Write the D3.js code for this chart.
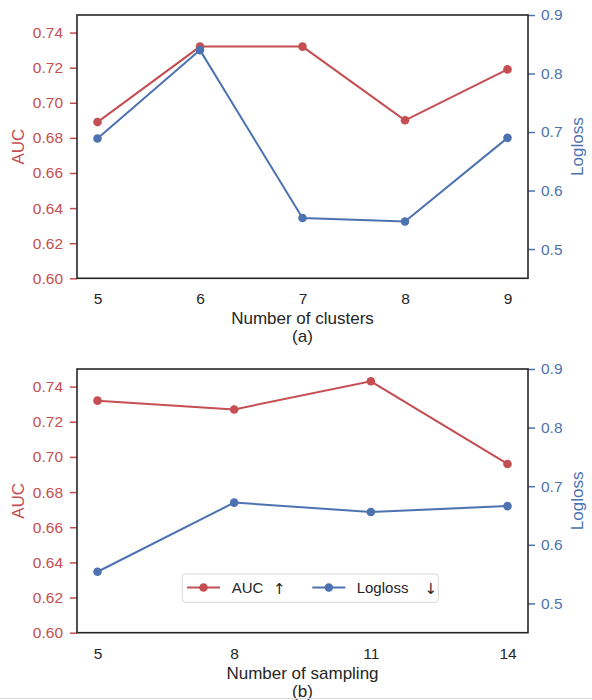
<!DOCTYPE html>
<html>
<head>
<meta charset="utf-8">
<script src="https://cdn.jsdelivr.net/npm/d3@7"></script>
<style>
  body { margin: 0; background: #fff; }
  svg { font-family: "Liberation Sans", Arial, sans-serif; }
</style>
</head>
<body>
<div id="canvas"></div>
<script>
// data
var clusters = [5, 6, 7, 8, 9];
var aucClusters = [0.689, 0.732, 0.732, 0.690, 0.719];
var loglossClusters = [0.689, 0.840, 0.553, 0.547, 0.690];

var sampling = [5, 8, 11, 14];
var aucSampling = [0.732, 0.727, 0.743, 0.696];
var loglossSampling = [0.554, 0.672, 0.656, 0.666];

var aucTicks = [0.60, 0.62, 0.64, 0.66, 0.68, 0.70, 0.72, 0.74];
var loglossTicks = [0.5, 0.6, 0.7, 0.8, 0.9];

var RED = '#c44e52', BLUE = '#4c72b0', DARK = '#262626';

var svg = d3.select('#canvas').append('svg')
  .attr('width', 592)
  .attr('height', 700);

function panel(opts) {
  var left = 77, right = 528;
  var g = svg.append('g');

  var x = d3.scaleLinear().domain(opts.xDomain).range([left, right]);
  var yAuc = d3.scaleLinear().domain([0.60, 0.75]).range([opts.bottom, opts.top]);
  var yLog = d3.scaleLinear().domain([0.45, 0.90]).range([opts.bottom, opts.top]);

  // left axis (AUC)
  var ax = g.append('g').attr('transform', 'translate(' + left + ',0)')
    .call(d3.axisLeft(yAuc).tickValues(aucTicks).tickFormat(d3.format('.2f')).tickSize(7).tickPadding(7));
  ax.select('.domain').remove();
  ax.selectAll('line').attr('stroke', RED).attr('stroke-width', 1.5);
  ax.selectAll('text').attr('fill', RED).style('font-size', '15.5px');

  // right axis (Logloss)
  var ar = g.append('g').attr('transform', 'translate(' + right + ',0)')
    .call(d3.axisRight(yLog).tickValues(loglossTicks).tickFormat(d3.format('.1f')).tickSize(7).tickPadding(6));
  ar.select('.domain').remove();
  ar.selectAll('line').attr('stroke', BLUE).attr('stroke-width', 1.5);
  ar.selectAll('text').attr('fill', BLUE).style('font-size', '15.5px');

  // bottom axis
  var ab = g.append('g').attr('transform', 'translate(0,' + opts.bottom + ')')
    .call(d3.axisBottom(x).tickValues(opts.xs).tickFormat(d3.format('d')).tickSize(0).tickPadding(15));
  ab.select('.domain').remove();
  ab.selectAll('text').attr('fill', DARK).style('font-size', '15.5px');

  // frame
  g.append('rect')
    .attr('x', left).attr('y', opts.top)
    .attr('width', right - left).attr('height', opts.bottom - opts.top)
    .attr('fill', 'none').attr('stroke', DARK).attr('stroke-width', 1.6);

  function series(vals, y, color) {
    var pts = opts.xs.map(function(d, i) { return [d, vals[i]]; });
    g.append('path')
      .datum(pts)
      .attr('fill', 'none')
      .attr('stroke', color)
      .attr('stroke-width', 2)
      .attr('d', d3.line().x(function(d) { return x(d[0]); }).y(function(d) { return y(d[1]); }));
    g.selectAll(null).data(pts).enter()
      .append('circle')
      .attr('cx', function(d) { return x(d[0]); })
      .attr('cy', function(d) { return y(d[1]); })
      .attr('r', 4.3)
      .attr('fill', color);
  }
  series(opts.auc, yAuc, RED);
  series(opts.logloss, yLog, BLUE);

  var mid = (opts.top + opts.bottom) / 2;
  g.append('text')
    .attr('transform', 'translate(24,' + mid + ') rotate(-90)')
    .attr('text-anchor', 'middle')
    .attr('fill', RED).style('font-size', '17px')
    .text('AUC');
  g.append('text')
    .attr('transform', 'translate(583,' + mid + ') rotate(-90)')
    .attr('text-anchor', 'middle')
    .attr('fill', BLUE).style('font-size', '17px')
    .text('Logloss');

  g.append('text')
    .attr('x', (left + right) / 2).attr('y', opts.bottom + 46)
    .attr('text-anchor', 'middle').attr('fill', DARK).style('font-size', '17px')
    .text(opts.xLabel);
  g.append('text')
    .attr('x', (left + right) / 2).attr('y', opts.bottom + 64)
    .attr('text-anchor', 'middle').attr('fill', DARK).style('font-size', '17px')
    .text(opts.caption);

  return g;
}

panel({ top: 15, bottom: 278.3, xDomain: [4.8, 9.2], xs: clusters,
  auc: aucClusters, logloss: loglossClusters, xLabel: 'Number of clusters', caption: '(a)' });

var gb = panel({ top: 369, bottom: 632.7, xDomain: [4.55, 14.45], xs: sampling,
  auc: aucSampling, logloss: loglossSampling, xLabel: 'Number of sampling', caption: '(b)' });

// legend
var legend = [
  { label: 'AUC', arrow: '\u2191', color: RED, x: 187, tx: 231.7, ax: 273 },
  { label: 'Logloss', arrow: '\u2193', color: BLUE, x: 312.3, tx: 356.7, ax: 424.5 }
];
gb.append('rect')
  .attr('x', 182.3).attr('y', 574).attr('width', 256).attr('height', 28.3)
  .attr('rx', 3).attr('fill', '#fff').attr('stroke', '#d6d6d6').attr('stroke-width', 1);
var items = gb.selectAll('.item').data(legend).enter().append('g').attr('class', 'item');
items.append('line')
  .attr('x1', function(d) { return d.x; }).attr('x2', function(d) { return d.x + 33; })
  .attr('y1', 587.5).attr('y2', 587.5)
  .attr('stroke', function(d) { return d.color; }).attr('stroke-width', 2);
items.append('circle')
  .attr('cx', function(d) { return d.x + 16.5; }).attr('cy', 587.5).attr('r', 4.3)
  .attr('fill', function(d) { return d.color; });
items.append('text')
  .attr('x', function(d) { return d.tx; }).attr('y', 593)
  .attr('fill', DARK).style('font-size', '15px')
  .text(function(d) { return d.label; });
items.append('text')
  .attr('x', function(d) { return d.ax; }).attr('y', 593.5)
  .attr('fill', DARK).style('font-size', '15px')
  .style('font-family', '"DejaVu Sans", sans-serif')
  .text(function(d) { return d.arrow; });

// faint border line at the very bottom of the picture
svg.append('line').attr('x1', 0).attr('x2', 592).attr('y1', 698.5).attr('y2', 698.5)
  .attr('stroke', '#d9d9d9').attr('stroke-width', 1);
</script>
</body>
</html>
